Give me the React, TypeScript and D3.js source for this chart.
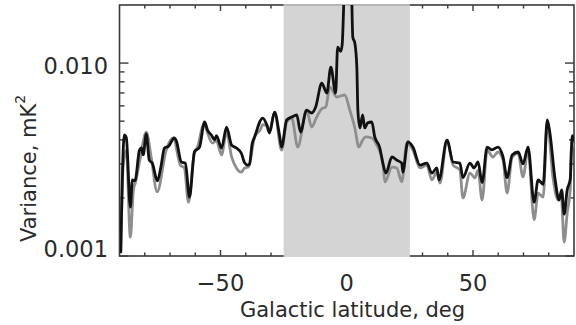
import React from "react";
import * as d3 from "d3";

const blackLat = [-89.5, -88.1, -87.3, -85.7, -84.9, -84.1, -83.7, -82.1, -81.3, -80.6, -79.4, -78.2, -77.0, -75.0, -73.6, -72.2, -70.6, -68.3, -67.5, -65.5, -63.9, -62.3, -60.3, -58.3, -56.3, -55.0, -53.6, -52.4, -51.6, -49.6, -47.6, -45.6, -43.7, -41.7, -40.5, -39.3, -38.5, -37.5, -36.5, -33.3, -31.7, -30.6, -28.6, -26.6, -25.8, -23.8, -21.8, -19.8, -18.3, -15.9, -13.9, -12.3, -9.9, -7.9, -6.3, -4.4, -3.6, -2.4, -1.8, -1.2, -0.6, 0.8, 1.6, 2.4, 3.2, 4.0, 4.4, 5.2, 6.3, 7.1, 8.3, 9.9, 11.1, 13.1, 14.3, 15.5, 17.9, 19.8, 21.8, 22.2, 24.2, 26.2, 29.0, 31.7, 33.7, 35.7, 36.5, 39.7, 42.1, 44.8, 46.0, 48.8, 50.4, 52.0, 53.6, 55.6, 57.5, 59.9, 61.9, 63.5, 65.5, 67.9, 69.8, 71.8, 74.2, 75.8, 77.0, 77.8, 79.4, 80.4, 82.5, 84.1, 85.1, 86.1, 87.3, 88.5, 89.3, 89.8];
const blackVar = [0.00105, 0.00424, 0.0041, 0.00179, 0.00248, 0.00245, 0.00248, 0.00354, 0.00363, 0.00334, 0.0043, 0.00314, 0.00303, 0.00245, 0.0029, 0.00363, 0.0037, 0.00409, 0.00395, 0.00307, 0.00303, 0.00202, 0.00346, 0.00367, 0.00495, 0.00445, 0.00424, 0.004, 0.0042, 0.00363, 0.00466, 0.00376, 0.00363, 0.0034, 0.00305, 0.00296, 0.003, 0.0038, 0.00414, 0.00519, 0.0048, 0.00434, 0.00557, 0.0042, 0.00367, 0.00507, 0.00525, 0.00538, 0.00439, 0.00571, 0.00551, 0.00592, 0.00788, 0.00699, 0.00953, 0.00699, 0.0121, 0.0115, 0.0125, 0.02, 0.035, 0.04, 0.035, 0.0136, 0.0127, 0.0095, 0.00571, 0.00461, 0.00538, 0.00461, 0.0049, 0.00495, 0.00414, 0.00363, 0.00303, 0.00269, 0.00326, 0.00314, 0.00303, 0.00272, 0.0039, 0.00367, 0.00296, 0.00303, 0.00269, 0.00286, 0.00248, 0.00399, 0.00307, 0.00303, 0.00255, 0.00303, 0.00286, 0.00307, 0.0024, 0.00367, 0.00355, 0.00367, 0.00326, 0.00255, 0.00334, 0.00346, 0.003, 0.00367, 0.0019, 0.00248, 0.0024, 0.00235, 0.00507, 0.0044, 0.0025, 0.00195, 0.0022, 0.00165, 0.0022, 0.0025, 0.0042, 0.004];

const grayLat = [-89.5, -88.5, -87.3, -85.7, -84.5, -83.7, -81.7, -79.4, -77.4, -75.1, -71.5, -68.7, -65.9, -64.3, -62.7, -60.3, -59.1, -56.7, -53.2, -51.6, -49.6, -47.6, -45.6, -43.7, -41.7, -40.5, -38.9, -36.5, -34.1, -33.3, -31.3, -30.6, -28.6, -25.8, -23.8, -21.8, -19.4, -15.9, -13.9, -11.9, -9.9, -8.3, -6.7, -4.0, -0.8, 1.2, 3.2, 4.8, 6.3, 7.5, 9.9, 11.9, 14.3, 15.1, 17.9, 19.8, 21.8, 23.8, 26.2, 29.0, 31.7, 33.7, 35.7, 36.9, 39.7, 42.1, 44.8, 46.0, 48.8, 50.8, 52.0, 53.6, 55.6, 57.9, 59.9, 61.9, 63.5, 65.5, 67.9, 69.8, 71.8, 74.2, 75.8, 77.8, 79.4, 81.7, 83.7, 84.9, 86.1, 87.3, 88.5, 88.9, 89.8];
const grayVar = [0.00105, 0.003, 0.00354, 0.00125, 0.0022, 0.0024, 0.00326, 0.00439, 0.00322, 0.00215, 0.00354, 0.00409, 0.00296, 0.00286, 0.0019, 0.00346, 0.00367, 0.00477, 0.00385, 0.00395, 0.00334, 0.00439, 0.00326, 0.00286, 0.00272, 0.00286, 0.00289, 0.00414, 0.00455, 0.0048, 0.0047, 0.0044, 0.00557, 0.00354, 0.00495, 0.00519, 0.00367, 0.00571, 0.00466, 0.00525, 0.0058, 0.00592, 0.00751, 0.00667, 0.00683, 0.00571, 0.00461, 0.00367, 0.00399, 0.00414, 0.00409, 0.00376, 0.00303, 0.00242, 0.00289, 0.00286, 0.00242, 0.00385, 0.00354, 0.00286, 0.00296, 0.00248, 0.00272, 0.00239, 0.00399, 0.00296, 0.00279, 0.002, 0.00269, 0.00254, 0.00279, 0.00195, 0.00354, 0.00326, 0.00346, 0.00314, 0.00212, 0.00326, 0.0034, 0.00257, 0.00354, 0.00154, 0.00212, 0.00202, 0.00489, 0.00254, 0.00195, 0.0021, 0.00118, 0.00167, 0.0022, 0.00354, 0.0038];

const shadeRange = [-25, 25];
const xMajorTicks = [-50, 0, 50];
const xMinorTicks = [-80, -70, -60, -40, -30, -20, -10, 10, 20, 30, 40, 60, 70, 80];
const yMajorTicks = [0.001, 0.01];
const yMinorTicks = [0.002, 0.003, 0.004, 0.005, 0.006, 0.007, 0.008, 0.009];
const yTickLabels = ["0.001", "0.010"];
const xLabel = "Galactic latitude, deg";
const yLabel = "Variance, mK";

export default function App() {
  const W = 576, H = 325;
  const left = 119.5, right = 574, top = 5, bottom = 256;
  const x = d3.scaleLinear().domain([-90, 90]).range([left, right]);
  const y = d3.scaleLog().domain([0.001, 0.02]).range([bottom, top]);
  const line = d3
    .line<[number, number]>()
    .x((d) => x(d[0]))
    .y((d) => y(d[1]))
    .curve(d3.curveMonotoneX);
  const blackPts = blackLat.map((l, i) => [l, blackVar[i]] as [number, number]);
  const grayPts = grayLat.map((l, i) => [l, grayVar[i]] as [number, number]);
  const axisColor = "#3a3a3a";
  const textColor = "#2a2a2a";
  const font = "DejaVu Sans, sans-serif";

  return (
    <svg width={W} height={H} style={{ position: "absolute", left: 0, top: 0, background: "#fff" }}>
      <defs>
        <clipPath id="plotclip">
          <rect x={left} y={top} width={right - left} height={bottom - top} />
        </clipPath>
      </defs>
      <rect x={0} y={0} width={W} height={H} fill="#fff" />
      {/* frame */}
      <rect x={left} y={top} width={right - left} height={bottom - top} fill="none" stroke={axisColor} strokeWidth={1.6} />
      {/* x ticks */}
      {xMajorTicks.map((t) => (
        <g key={"xM" + t}>
          <line x1={x(t)} x2={x(t)} y1={bottom} y2={bottom - 6} stroke={axisColor} strokeWidth={1.4} />
          <line x1={x(t)} x2={x(t)} y1={top} y2={top + 6} stroke={axisColor} strokeWidth={1.4} />
        </g>
      ))}
      {xMinorTicks.map((t) => (
        <g key={"xm" + t}>
          <line x1={x(t)} x2={x(t)} y1={bottom} y2={bottom - 3.5} stroke={axisColor} strokeWidth={1.4} />
          <line x1={x(t)} x2={x(t)} y1={top} y2={top + 3.5} stroke={axisColor} strokeWidth={1.4} />
        </g>
      ))}
      {yMajorTicks.map((t) => (
        <g key={"yM" + t}>
          <line x1={left} x2={left + 9} y1={y(t)} y2={y(t)} stroke={axisColor} strokeWidth={1.4} />
          <line x1={right} x2={right - 9} y1={y(t)} y2={y(t)} stroke={axisColor} strokeWidth={1.4} />
        </g>
      ))}
      {yMinorTicks.map((t) => (
        <g key={"ym" + t}>
          <line x1={left} x2={left + 5} y1={y(t)} y2={y(t)} stroke={axisColor} strokeWidth={1.4} />
          <line x1={right} x2={right - 5} y1={y(t)} y2={y(t)} stroke={axisColor} strokeWidth={1.4} />
        </g>
      ))}
      {/* shaded band */}
      <rect
        x={x(shadeRange[0])}
        y={top - 1}
        width={x(shadeRange[1]) - x(shadeRange[0])}
        height={bottom - top + 2}
        fill="#d4d4d4"
      />
      <line x1={x(shadeRange[0])} x2={x(shadeRange[1])} y1={top} y2={top} stroke="#999" strokeWidth={1.2} />
      {/* data */}
      <g clipPath="url(#plotclip)" fill="none" strokeLinejoin="round" strokeLinecap="round">
        <path d={line(grayPts) || ""} stroke="#8e8e8e" strokeWidth={2.8} />
        <path d={line(blackPts) || ""} stroke="#111" strokeWidth={2.8} />
      </g>
      {/* tick labels */}
      {xMajorTicks.map((t) => (
        <text key={"xl" + t} x={x(t)} y={291} textAnchor="middle" fontFamily={font} fontSize={22.5} fill={textColor}>
          {t < 0 ? "\u2212" + Math.abs(t) : String(t)}
        </text>
      ))}
      {yMajorTicks.map((t, i) => (
        <text
          key={"yl" + t}
          x={108}
          y={Math.min(y(t) + 11, bottom + 1)}
          textAnchor="end"
          fontFamily={font}
          fontSize={22.5}
          fill={textColor}
        >
          {yTickLabels[i]}
        </text>
      ))}
      <text x={352.5} y={317} textAnchor="middle" fontFamily={font} fontSize={21} fill={textColor}>
        {xLabel}
      </text>
      <text transform="translate(36,242) rotate(-90)" fontFamily={font} fontSize={21} fill={textColor}>
        {yLabel}
        <tspan fontSize={14} dy={-11}>2</tspan>
      </text>
    </svg>
  );
}
